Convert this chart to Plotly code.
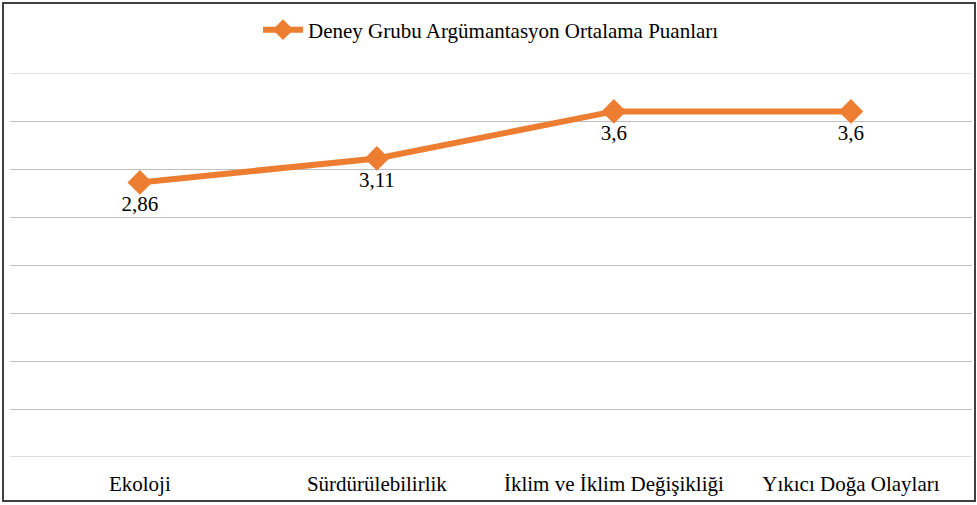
import plotly.graph_objects as go

categories = ["Ekoloji", "Sürdürülebilirlik", "İklim ve İklim Değişikliği", "Yıkıcı Doğa Olayları"]
values = [2.86, 3.11, 3.6, 3.6]
series_name = "Deney Grubu Argümantasyon Ortalama Puanları"
labels = [f"{v:g}".replace(".", ",") for v in values]

W, H = 977, 505
L, R, T, B = 10, 5, 73, 48
pw, ph = W - L - R, H - T - B
FONT = "Liberation Serif, Times New Roman, serif"

def px_x(p):
    return (p - L) / pw

def px_y(p):
    return (H - B - p) / ph

fig = go.Figure()
fig.add_trace(go.Scatter(
    x=categories, y=values, mode="lines+markers+text",
    name=series_name,
    text=labels, textposition="bottom center",
    textfont=dict(family=FONT, size=21, color="#000000"),
    line=dict(color="#ED7D31", width=6),
    marker=dict(symbol="diamond", size=19, color="#ED7D31"),
))

fig.update_layout(
    width=W, height=H,
    margin=dict(l=L, r=R, t=T, b=B),
    paper_bgcolor="white", plot_bgcolor="white",
    font=dict(family=FONT, size=21, color="#000000"),
    showlegend=True,
    legend=dict(orientation="h", x=0.5, xanchor="center", y=px_y(30), yanchor="middle",
                font=dict(family=FONT, size=21), itemwidth=40),
    xaxis=dict(type="category", range=[-0.548, 3.511], showgrid=False, zeroline=False,
               showline=False, ticks="", tickfont=dict(size=21), ticklabelstandoff=12),
    yaxis=dict(range=[0, 4], dtick=0.5, showgrid=True, gridcolor="#BFBFBF", gridwidth=1,
               showticklabels=False, zeroline=False, showline=False, ticks=""),
    shapes=[dict(type="rect", xref="paper", yref="paper",
                 x0=px_x(3), x1=px_x(975), y0=px_y(501), y1=px_y(3),
                 line=dict(color="#404040", width=2), layer="below")],
)
fig.add_hline(y=0, line=dict(color="#BFBFBF", width=1))
fig.add_hline(y=4, line=dict(color="#BFBFBF", width=1))

fig.write_html("out.html", config={"displayModeBar": False},
               post_script="document.body.style.margin='0';")
